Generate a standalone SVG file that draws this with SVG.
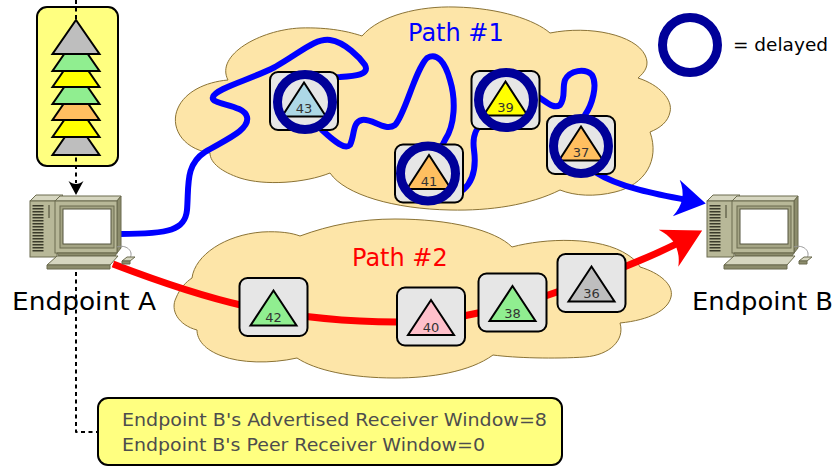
<svg xmlns="http://www.w3.org/2000/svg" xmlns:xlink="http://www.w3.org/1999/xlink" width="836" height="466" viewBox="0 0 836 466">
  <style>
    .cloud { fill: #fde5a8; stroke: #8b7335; stroke-width: 1; }
    .box { fill: #e6e6e6; stroke: #000; stroke-width: 2; }
    .tri { stroke: #000; stroke-width: 2; stroke-linejoin: miter; }
    .num { font-family: "DejaVu Sans", Verdana, sans-serif; font-size: 13px; fill: #333; text-anchor: middle; }
    .delay { fill: none; stroke: #000099; stroke-width: 9; }
    .label { font-family: "DejaVu Sans", Verdana, sans-serif; }
    .dash { fill: none; stroke: #000; stroke-width: 2; stroke-dasharray: 4 3.5; }
    .note { fill: #ffff80; stroke: #000; stroke-width: 2; }
    .pc-light { fill: #d6d6c0; stroke: #6b6b4e; stroke-width: 1; }
    .pc-mid { fill: #b8b898; stroke: #6b6b4e; stroke-width: 1; }
    .pc-dark { fill: #8c8c6c; stroke: #6b6b4e; stroke-width: 1; }
    .green { fill: #90ee90; } .yellow { fill: #ffff00; } .orange { fill: #ffbf60; }
    .gray { fill: #bebebe; } .pink { fill: #ffc0cb; } .blue { fill: #add8e6; }
  </style>
  <defs>
    <marker id="head-blue" markerUnits="userSpaceOnUse" orient="auto" refX="-14" refY="0" overflow="visible">
      <path d="M0,0 L-30,-18.5 C-22,-6 -22,6 -30,18.5 Z" fill="#0000ff"/>
    </marker>
    <marker id="head-red" markerUnits="userSpaceOnUse" orient="auto" refX="-16" refY="0" overflow="visible">
      <path d="M0,0 L-38,-21 C-28,-7 -28,7 -38,21 Z" fill="#ff0000"/>
    </marker>
    <marker id="head-black" markerUnits="userSpaceOnUse" orient="auto" refX="-12" refY="0" overflow="visible">
      <path d="M0,0 L-14,-7.5 C-10,-2.5 -10,2.5 -14,7.5 Z" fill="#000"/>
    </marker>
    <polygon id="tri1" points="0,-18.5 22,15.5 -22,15.5"/>
    <polygon id="tri2" points="0,-16.5 23,18.5 -23,18.5"/>
    <rect id="pbox" x="-34" y="-29" width="68" height="58" rx="8" ry="8"/>
    <!-- desktop computer: tower, monitor, keyboard, mouse -->
    <g id="pc">
      <polygon class="pc-light" points="30,201 36,195 63,195 57,201"/>
      <rect class="pc-mid" x="30" y="201" width="27" height="56"/>
      <line x1="38" y1="205" x2="38" y2="253" stroke="#3a3a2a" stroke-width="11" stroke-dasharray="1.5 1.5"/>
      <line x1="49" y1="205" x2="49" y2="218" stroke="#55553f" stroke-width="1.2"/>
      <polygon class="pc-light" points="55,201 60,196 121,196 117,201"/>
      <polygon class="pc-dark" points="117,201 121,196 121,248 117,253"/>
      <rect class="pc-mid" x="55" y="201" width="62" height="52"/>
      <rect x="60" y="206" width="54" height="42" fill="#a5a585" stroke="#6b6b4e" stroke-width="1"/>
      <rect x="63" y="209" width="48" height="35" fill="#fff" stroke="#55553f" stroke-width="1"/>
      <polygon class="pc-dark" points="57,253 117,253 115,256 59,256"/>
      <path d="M117,247 C126,244 134,251 130,258" fill="none" stroke="#999" stroke-width="1"/>
      <polygon class="pc-light" points="57,256 118,256 110,265 47,265"/>
      <polygon class="pc-dark" points="47,265 110,265 110,269 47,269"/>
      <polygon class="pc-light" points="122,261 127,257 135,257 130,261"/>
      <polygon class="pc-dark" points="122,261 130,261 130,264 122,264"/>
    </g>
  </defs>

  <!-- network clouds -->
  <g id="cloud-path1">
    <path class="cloud" d="M210,153 C180,148 170,125 178,108 C185,92 205,82 228,80 C215,55 260,30 300,28 C330,27 350,32 362,36 C380,15 420,6 455,7 C500,8 535,20 550,33 C590,25 635,35 645,55 C650,65 645,72 638,78 C660,85 673,100 670,112 C668,122 660,128 650,132 C660,160 645,185 615,192 C595,197 575,196 560,190 C530,205 490,211 450,210 C395,209 345,195 330,173 C305,183 265,186 240,178 C222,172 210,163 210,153 Z"/>
    <text class="label" x="408" y="41" font-size="24" fill="#0000ff">Path #1</text>
  </g>
  <g id="cloud-path2">
    <path class="cloud" d="M197,330 C178,325 170,310 176,298 C180,288 186,282 192,278 C195,255 225,235 262,232 C280,231 292,233 300,236 C330,225 360,219 395,219 C450,219 495,230 512,247 C545,238 600,236 628,255 C634,259 638,263 640,267 C660,273 674,285 671,297 C668,310 650,320 620,323 C625,340 610,355 585,357 C555,359 515,358 493,355 C470,372 430,378 395,378 C350,378 315,370 297,358 C270,364 240,363 222,356 C205,350 197,340 197,330 Z"/>
    <text class="label" x="352" y="266" font-size="24" fill="#ff0000">Path #2</text>
  </g>

  <!-- connectors -->
  <g id="connectors" fill="none" stroke-linecap="butt" stroke-linejoin="round">
    <path id="path1" stroke="#0000ff" stroke-width="6" marker-end="url(#head-blue)" d="M120,234 C170,234 185,230 187,210 C189,185 185,165 205,152 C225,140 250,130 247,117 C244,104 210,105 213,97 C216,88 250,80 275,67 C300,53 315,38 330,40 C345,42 360,58 365,65 C370,75 355,76 340,77 L310,78 L306,102 L322,130 C335,142 345,150 350,145 C355,135 352,122 362,120 C372,118 385,132 395,125 C405,115 415,70 427,58 C437,52 445,62 450,80 C456,100 455,125 445,140 L428,173 L463,190 C475,180 476,165 474,150 C472,135 476,127 485,122 L506,100 L535,95 C545,100 553,110 560,105 C566,98 562,88 565,80 C570,70 585,68 592,75 C598,85 592,105 585,115 L581,146 L595,172 C620,188 660,195 692,201"/>
    <path id="path2" stroke="#ff0000" stroke-width="7" marker-end="url(#head-red)" d="M113,264 C160,282 200,296 245,306 C290,316 340,322 397,322 C430,322 450,319 478,313 C510,306 530,302 557,292 C600,277 650,258 688,238"/>
    <path id="stack-arrow" class="dash" d="M76,0 L76,183" marker-end="url(#head-black)"/>
    <path id="note-link" class="dash" d="M76,272 L76,432 L98,432"/>
  </g>

  <!-- packets on path #1 (all delayed) -->
  <g id="packet-43" transform="translate(304,101)">
    <use href="#pbox" class="box"/>
    <use href="#tri1" class="tri blue"/>
    <text class="num" x="0" y="12">43</text>
    <circle class="delay" cx="1" cy="1" r="27.5"/>
  </g>
  <g id="packet-41" transform="translate(429,173.5)">
    <use href="#pbox" class="box"/>
    <use href="#tri1" class="tri orange"/>
    <text class="num" x="0" y="12">41</text>
    <circle class="delay" cx="-1" cy="0" r="27.5"/>
  </g>
  <g id="packet-39" transform="translate(505.5,100)">
    <use href="#pbox" class="box"/>
    <use href="#tri1" class="tri yellow"/>
    <text class="num" x="0" y="12">39</text>
    <circle class="delay" cx="0.5" cy="0" r="27.5"/>
  </g>
  <g id="packet-37" transform="translate(581,145)">
    <use href="#pbox" class="box"/>
    <use href="#tri1" class="tri orange"/>
    <text class="num" x="0" y="12">37</text>
    <circle class="delay" cx="0" cy="1" r="27.5"/>
  </g>

  <!-- packets on path #2 -->
  <g id="packet-42" transform="translate(273.5,307)">
    <use href="#pbox" class="box"/>
    <use href="#tri2" class="tri green"/>
    <text class="num" x="0" y="15">42</text>
  </g>
  <g id="packet-40" transform="translate(431,316.5)">
    <use href="#pbox" class="box"/>
    <use href="#tri2" class="tri pink"/>
    <text class="num" x="0" y="15">40</text>
  </g>
  <g id="packet-38" transform="translate(512.5,302.5)">
    <use href="#pbox" class="box"/>
    <use href="#tri2" class="tri green"/>
    <text class="num" x="0" y="15">38</text>
  </g>
  <g id="packet-36" transform="translate(591.5,283)">
    <use href="#pbox" class="box"/>
    <use href="#tri2" class="tri gray"/>
    <text class="num" x="0" y="15">36</text>
  </g>

  <!-- endpoints -->
  <g id="endpoint-a">
    <use href="#pc"/>
    <text class="label" x="12" y="310" font-size="24" fill="#000" textLength="144" lengthAdjust="spacingAndGlyphs">Endpoint A</text>
  </g>
  <g id="endpoint-b">
    <use href="#pc" transform="translate(677,0)"/>
    <text class="label" x="692" y="310" font-size="24" fill="#000" textLength="141" lengthAdjust="spacingAndGlyphs">Endpoint B</text>
  </g>

  <!-- send queue held by endpoint A -->
  <g id="send-queue">
    <rect class="note" x="37" y="7" width="81" height="159" rx="10" ry="10"/>
    <line class="dash" x1="76" y1="0" x2="76" y2="166"/>
    <g class="tri">
      <polygon class="gray" points="76,121 99.5,155 52.5,155"/>
      <polygon class="yellow" points="76,103 99.5,137 52.5,137"/>
      <polygon class="orange" points="76,86 99.5,120 52.5,120"/>
      <polygon class="green" points="76,70 99.5,104 52.5,104"/>
      <polygon class="yellow" points="76,53 99.5,87 52.5,87"/>
      <polygon class="green" points="76,37 99.5,71 52.5,71"/>
      <polygon class="gray" points="76,20 99.5,54 52.5,54"/>
    </g>
  </g>

  <!-- receiver window note -->
  <g id="window-note">
    <rect class="note" x="98" y="398" width="464" height="67" rx="10" ry="10"/>
    <text class="label" x="122" y="426" font-size="18" fill="#4d4d4d" textLength="425" lengthAdjust="spacingAndGlyphs">Endpoint B's Advertised Receiver Window=8</text>
    <text class="label" x="122" y="451" font-size="18" fill="#4d4d4d" textLength="363" lengthAdjust="spacingAndGlyphs">Endpoint B's Peer Receiver Window=0</text>
  </g>

  <!-- legend -->
  <g id="legend">
    <circle class="delay" cx="690" cy="45" r="27.5"/>
    <text class="label" x="733" y="51" font-size="17" fill="#000" textLength="95" lengthAdjust="spacingAndGlyphs">= delayed</text>
  </g>
</svg>
